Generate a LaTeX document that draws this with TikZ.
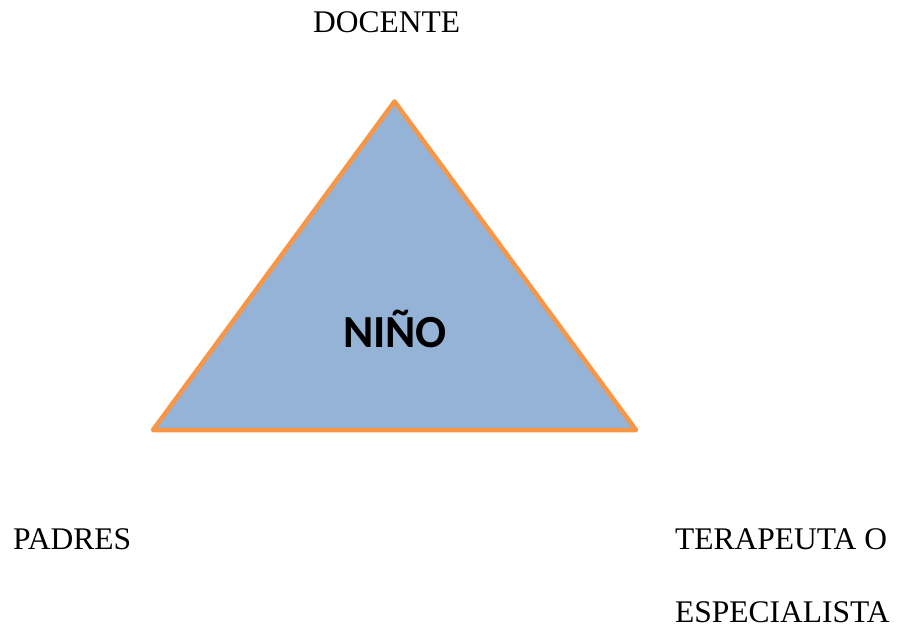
\documentclass[tikz,border=0pt]{standalone}
\usepackage{fontspec}
\setmainfont{Liberation Serif}
\newfontfamily\carlito{Carlito}
\definecolor{triblue}{HTML}{95B3D7}
\definecolor{triorange}{HTML}{F79646}
\tikzset{
  lbl/.style={anchor=base west, inner sep=0pt, font=\fontsize{31.5}{36}\selectfont},
  tri/.style={fill=triblue, draw=triorange, line width=4.5pt, line join=round},
}
\begin{document}
\begin{tikzpicture}[x=1pt,y=-1pt]
\useasboundingbox (0,0) rectangle (898,626);
\coordinate (apex) at (394.5,101.5);
\coordinate (bl) at (153,430);
\coordinate (br) at (636,430);
\draw[tri] (apex) -- (bl) -- (br) -- cycle;
\node[anchor=base, inner sep=0pt, font=\carlito\bfseries\fontsize{46}{50}\selectfont] (nino) at (395,347) {NIÑO};
\node[lbl] (docente) at (313,33) {DOCENTE};
\node[lbl] (padres) at (13,549) {PADRES};
\node[lbl] (terapeuta) at (675,549) {TERAPEUTA O};
\node[lbl] (especialista) at (675,622) {ESPECIALISTA};
\end{tikzpicture}
\end{document}
